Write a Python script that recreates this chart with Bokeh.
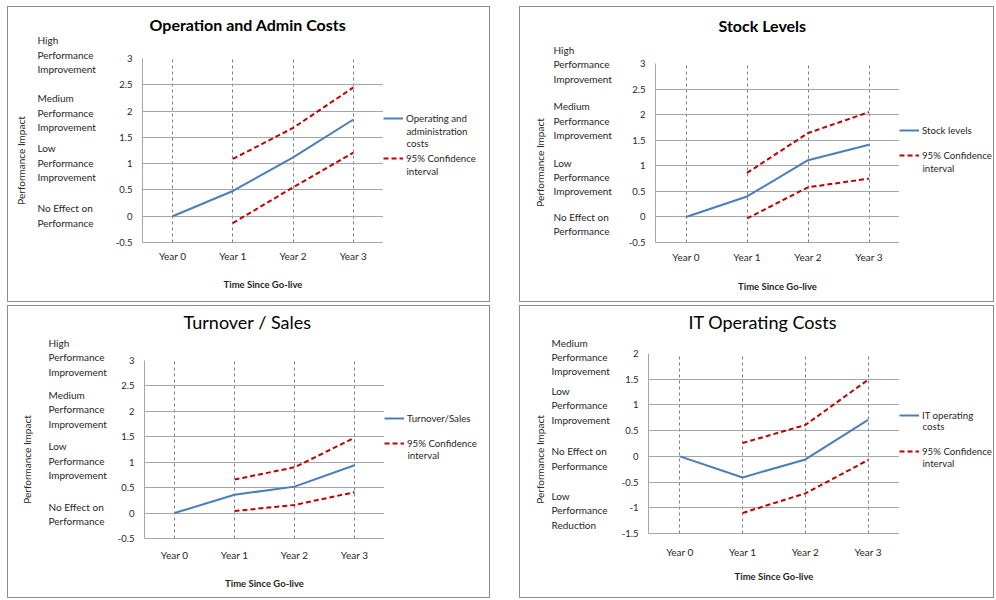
from bokeh.plotting import figure
from bokeh.models import (FactorRange, Range1d, FixedTicker, Legend, LegendItem, Spacer, Label)
from bokeh.layouts import row, column
from bokeh.core.properties import value
from bokeh.embed import file_html
from bokeh.resources import INLINE

# ---------------- data ----------------
years = ["Year 0", "Year 1", "Year 2", "Year 3"]
ci_years = ["Year 1", "Year 2", "Year 3"]

op_admin = [0, 0.48, 1.12, 1.84]
op_admin_upper = [1.09, 1.68, 2.45]
op_admin_lower = [-0.13, 0.55, 1.21]

stock = [0, 0.40, 1.11, 1.41]
stock_upper = [0.86, 1.64, 2.05]
stock_lower = [-0.03, 0.58, 0.75]

turnover = [0, 0.36, 0.52, 0.94]
turnover_upper = [0.66, 0.90, 1.48]
turnover_lower = [0.04, 0.16, 0.41]

it_costs = [0, -0.41, -0.06, 0.71]
it_upper = [0.26, 0.61, 1.49]
it_lower = [-1.10, -0.72, -0.07]

ticks_a = [-0.5, 0, 0.5, 1, 1.5, 2, 2.5, 3]
tick_labels_a = ["-0.5", "0", "0.5", "1", "1.5", "2", "2.5", "3"]
ticks_b = [-1.5, -1, -0.5, 0, 0.5, 1, 1.5, 2]
tick_labels_b = ["-1.5", "-1", "-0.5", "0", "0.5", "1", "1.5", "2"]

levels_a = ["High\nPerformance\nImprovement", "Medium\nPerformance\nImprovement",
            "Low\nPerformance\nImprovement", "No Effect on\nPerformance"]
levels_b = ["Medium\nPerformance\nImprovement", "Low\nPerformance\nImprovement",
            "No Effect on\nPerformance", "Low\nPerformance\nReduction"]
levels_y_1 = [3.09, 1.99, 1.04, 0.03]
levels_y_2 = [3.0, 1.9, 0.8, -0.12]
levels_y_3 = [3.08, 2.06, 1.05, 0.0]
levels_y_4 = [1.95, 1.01, -0.02, -1.03]

op_admin_legend = ["Operating and", "administration", "costs"]
stock_legend = ["Stock levels"]
turnover_legend = ["Turnover/Sales"]
it_legend = ["IT operating", "costs"]
ci_legend = ["95% Confidence", "interval"]

FONT = "Lato"
BLUE = "#4A7EBB"
RED = "#C00000"
TXT = "#262626"
BORDER = "1px solid #8c8c8c"
LEG_SIZE = "9.7px"


def bare(fig):
    fig.outline_line_color = None
    fig.xgrid.visible = False
    fig.ygrid.visible = False


def make_panel(W, H, frame, title, bold, title_size, title_left, title_cy,
               yr, ticks, tick_labels, levels, levels_y, levels_x, ytitle_x, lf_top,
               main, upper, lower, main_lines, main_ys, ci_ys,
               xlab_off, xtitle_off):
    fl, fr, ft, fb = frame
    wl = fl - 30          # width of the left description strip
    T = ft - 8            # height of the title strip
    y0, y1 = yr
    ppu = (fb - ft) / (y1 - y0)   # pixels per value unit of the chart

    # ---- left strip: performance level descriptions + axis title ----
    lf = figure(width=wl, height=H, x_range=Range1d(0, 1),
                y_range=Range1d(y0 - (H - fb) / ppu, y0 + (fb - lf_top) / ppu),
                x_axis_location=None, output_backend="svg", toolbar_location=None,
                min_border_left=levels_x, min_border_right=0,
                min_border_top=lf_top, min_border_bottom=0,
                background_fill_color="white", border_fill_color="white",
                styles={"border-left": BORDER, "border-top": BORDER,
                        "border-bottom": BORDER, "box-sizing": "border-box"})
    bare(lf)
    la = lf.yaxis[0]
    la.ticker = FixedTicker(ticks=[])
    la.axis_line_color = None
    la.major_tick_line_color = None
    la.minor_tick_line_color = None
    la.major_tick_out = 0
    la.major_tick_in = 0
    la.major_label_standoff = 0
    la.axis_label = "Performance Impact"
    la.axis_label_text_font = FONT
    la.axis_label_text_font_size = "10px"
    la.axis_label_text_font_style = "normal"
    la.axis_label_text_color = TXT
    la.axis_label_standoff = max(levels_x - ytitle_x - 6, 0)
    lf.text(x=0, y=levels_y, text=levels, text_align="left", text_baseline="middle",
            text_font=value(FONT), text_font_size=value("10px"), text_line_height=1.2,
            text_color=TXT)

    # ---- title strip ----
    tw = W - wl
    tf = figure(width=tw, height=T, x_range=Range1d(0, tw), y_range=Range1d(0, T),
                x_axis_location=None, y_axis_location=None,
                output_backend="svg", toolbar_location=None,
                min_border_left=0, min_border_right=0, min_border_top=0, min_border_bottom=0,
                background_fill_color="white", border_fill_color="white",
                styles={"border-top": BORDER, "border-right": BORDER, "box-sizing": "border-box"})
    bare(tf)
    tf.add_layout(Label(x=title_left - wl, y=T - title_cy, text=title,
                        text_align="left", text_baseline="middle",
                        text_font=FONT, text_font_size=title_size,
                        text_font_style="bold" if bold else "normal", text_color="black"))

    # ---- chart ----
    cw = fr - wl
    ch = H - T
    p = figure(width=cw, height=ch, x_range=FactorRange(*years, range_padding=0),
               y_range=Range1d(y0, y1), output_backend="svg", toolbar_location=None,
               min_border_left=fl - wl, min_border_right=0,
               min_border_top=ft - T, min_border_bottom=H - fb,
               background_fill_color="white", border_fill_color="white",
               styles={"border-bottom": BORDER, "box-sizing": "border-box"})
    p.outline_line_color = None

    p.ygrid.ticker = FixedTicker(ticks=ticks)
    p.ygrid.grid_line_color = "#a6a6a6"
    p.ygrid.grid_line_width = 1
    p.xgrid.grid_line_color = "#7f7f7f"
    p.xgrid.grid_line_dash = "3 3"
    p.xgrid.grid_line_width = 1

    ya = p.yaxis[0]
    ya.ticker = FixedTicker(ticks=ticks)
    ya.major_label_overrides = {t: l for t, l in zip(ticks, tick_labels)}
    ya.major_tick_line_color = None
    ya.minor_tick_line_color = None
    ya.major_tick_out = 0
    ya.major_tick_in = 0
    ya.axis_line_color = "#a6a6a6"
    ya.major_label_standoff = 10
    ya.major_label_text_font = FONT
    ya.major_label_text_font_size = "9.5px"
    ya.major_label_text_color = TXT

    xa = p.xaxis[0]
    xa.major_tick_line_color = None
    xa.minor_tick_line_color = None
    xa.major_tick_out = 0
    xa.major_tick_in = 0
    xa.axis_line_color = "#a6a6a6"
    xa.major_label_standoff = xlab_off
    xa.major_label_text_font = FONT
    xa.major_label_text_font_size = "10px"
    xa.major_label_text_color = TXT
    xa.axis_label = "Time Since Go-live"
    xa.axis_label_text_font = FONT
    xa.axis_label_text_font_size = "9.5px"
    xa.axis_label_text_font_style = "bold"
    xa.axis_label_text_color = TXT
    xa.axis_label_standoff = xtitle_off

    p.line(years, main, line_color=BLUE, line_width=2)
    p.line(ci_years, upper, line_color=RED, line_width=2, line_dash="5 3")
    p.line(ci_years, lower, line_color=RED, line_width=2, line_dash="5 3")

    # ---- legend strip (its frame is aligned with the chart frame by the row) ----
    rw = W - fr
    rf = figure(width=rw, height=ch, x_range=Range1d(0, rw), y_range=Range1d(0, fb - ft),
                x_axis_location=None, y_axis_location=None,
                output_backend="svg", toolbar_location=None,
                min_border_left=0, min_border_right=0,
                min_border_top=ft - T, min_border_bottom=H - fb,
                background_fill_color="white", border_fill_color="white",
                styles={"border-right": BORDER, "border-bottom": BORDER, "box-sizing": "border-box"})
    bare(rf)
    nan = float("nan")
    k_main = rf.line([nan], [nan], line_color=BLUE, line_width=2)
    k_ci = rf.line([nan], [nan], line_color=RED, line_width=2, line_dash="5 3")
    gw, gs = 20, 3
    for k, lines, ys in ((k_main, main_lines, main_ys), (k_ci, ci_legend, ci_ys)):
        leg = Legend(items=[LegendItem(label=lines[0], renderers=[k])],
                     location=(0, fb - ys[0] - 6),
                     border_line_color=None, background_fill_alpha=0,
                     padding=0, margin=0, spacing=0,
                     glyph_width=gw, glyph_height=12, label_height=12, label_standoff=gs,
                     label_text_font=FONT, label_text_font_size=LEG_SIZE,
                     label_text_color=TXT)
        rf.add_layout(leg)
        for txt, yy in zip(lines[1:], ys[1:]):
            rf.add_layout(Label(x=gw + gs, y=fb - yy, text=txt, text_align="left",
                                text_baseline="middle", text_font=FONT,
                                text_font_size=LEG_SIZE, text_color=TXT))

    return row(lf, column(tf, row(p, rf, spacing=0), spacing=0), spacing=0)


p1 = make_panel(483, 296, (135, 376, 52, 236), "Operation and Admin Costs", True, "16px", 142, 17,
                (-0.5, 3), ticks_a, tick_labels_a, levels_a, levels_y_1, 29, 12, 10,
                op_admin, op_admin_upper, op_admin_lower, op_admin_legend,
                [112.3, 124.3, 136.3], [152.3, 164.3], 7, 14)
p2 = make_panel(475, 296, (136, 380, 57, 236), "Stock Levels", True, "16px", 199, 18,
                (-0.5, 3), ticks_a, tick_labels_a, levels_a, levels_y_2, 33, 19, 14,
                stock, stock_upper, stock_lower, stock_legend,
                [124.3], [149.3, 161.3], 8, 15)
p3 = make_panel(483, 293, (137, 377, 55, 233), "Turnover / Sales", False, "18px", 176, 15.5,
                (-0.5, 3), ticks_a, tick_labels_a, levels_a, levels_y_3, 40, 18, 13,
                turnover, turnover_upper, turnover_lower, turnover_legend,
                [113.3], [137.7, 149.3], 10, 14)
p4 = make_panel(475, 293, (129, 380, 48, 228), "IT Operating Costs", False, "18px", 169, 15.5,
                (-1.5, 2), ticks_b, tick_labels_b, levels_b, levels_y_4, 31, 19, 13,
                it_costs, it_upper, it_lower, it_legend,
                [109.7, 120.7], [145.7, 157.7], 12, 10)

layout = column(
    Spacer(height=6),
    row(Spacer(width=7), p1, Spacer(width=29), p2, spacing=0),
    Spacer(height=3),
    row(Spacer(width=7), p3, Spacer(width=29), p4, spacing=0),
    spacing=0)

open("out.html", "w").write(file_html(layout, INLINE))
